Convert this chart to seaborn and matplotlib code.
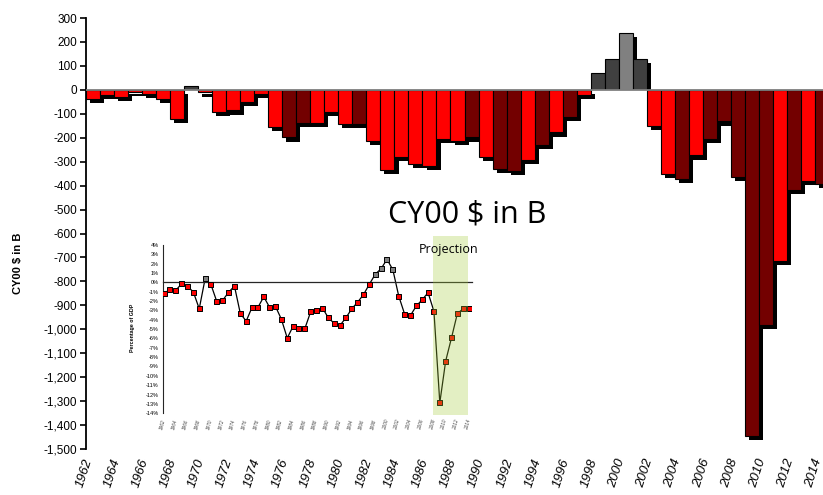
import numpy as np
import pandas as pd
import matplotlib.pyplot as plt
import matplotlib.patheffects as pe
import matplotlib.transforms as mtransforms
from matplotlib.patches import Rectangle
from matplotlib.ticker import FuncFormatter
import seaborn as sns

# ─── DATA ────────────────────────────────────────────────────────────────────
years = list(range(1962, 2015))

# deficit / surplus, CY00 $ in billions
deficit = [-38, -21, -28, -8, -16, -39, -121, 16, -11, -93, -86, -51, -17, -156,
           -199, -139, -139, -91, -144, -144, -213, -334, -281, -311, -316, -206, -213, -199,
           -281, -330, -339, -293, -230, -178, -114, -21, 70, 128, 237, 128,
           -150, -351, -373, -274, -206, -132, -365, -1447, -982, -713, -418, -381, -393]

# bar shading: R = red, D = dark red, G = dark grey, L = light grey
bar_kind = list("RRRRRRRGRRRRRR"
                "DDRRRDRRRRRRRD"
                "RDDRDRDRGGLG"
                "RRDRDDDDDRDRD")

# same series as percentage of GDP (inset)
pct_gdp = [-1.2, -0.75, -0.86, -0.15, -0.42, -1.04, -2.83, 0.38, -0.25, -2.07, -1.92, -1.07, -0.4, -3.33,
           -4.15, -2.68, -2.68, -1.55, -2.68, -2.58, -3.95, -5.96, -4.7, -4.95, -4.95, -3.13, -2.99, -2.75,
           -3.79, -4.39, -4.6, -3.79, -2.83, -2.12, -1.31, -0.2, 0.86, 1.46, 2.46, 1.34,
           -1.47, -3.39, -3.54, -2.53, -1.86, -1.11, -3.1, -12.88, -8.42, -5.92, -3.32, -2.83, -2.83]

proj_first, proj_last = 2008, 2014

KIND_COLORS = {"R": "#FF0000", "D": "#730000", "G": "#404040", "L": "#808080"}

df = pd.DataFrame({"year": [str(y) for y in years], "deficit": deficit,
                   "kind": bar_kind, "pct": pct_gdp})
df["idx"] = np.arange(len(df))
df["sign"] = np.where(df["pct"] > 0, "pos", "neg")

# ─── STYLE ───────────────────────────────────────────────────────────────────
sns.set_style("white")
plt.rcParams["font.family"] = ["Liberation Sans", "DejaVu Sans"]
plt.rcParams.update({"text.color": "black", "axes.labelcolor": "black",
                     "xtick.color": "black", "ytick.color": "black"})

fig = plt.figure(figsize=(8.23, 4.95), dpi=100)

# ─── MAIN BAR CHART ──────────────────────────────────────────────────────────
ax = fig.add_axes([0.1041, 0.0929, 0.8959, 0.8707])
palette = {y: KIND_COLORS[k] for y, k in zip(df["year"], df["kind"])}
sns.barplot(data=df, x="year", y="deficit", hue="year", palette=palette,
            legend=False, width=1.0, saturation=1, edgecolor="black",
            linewidth=0.8, ax=ax)

ax.set_xlim(-0.5, 52.05)
ax.set_ylim(-1500, 300)

shadow = [pe.SimplePatchShadow(offset=(3, -3), shadow_rgbFace="black", alpha=1.0),
          pe.Normal()]
# surplus bars: keep their shadow above the zero line
xmin, xmax = ax.get_xlim()
above_zero = Rectangle((xmin, 0), xmax - xmin, ax.get_ylim()[1], transform=ax.transData)
for p, val in zip(ax.patches, deficit):
    p.set_path_effects(shadow)
    if val > 0:
        p.set_clip_path(above_zero)

ax.axhline(0, color="#808080", lw=1.3, zorder=5)
ax.set_yticks(np.arange(-1500, 301, 100))
ax.yaxis.set_major_formatter(FuncFormatter(lambda v, _: f"{v:,.0f}"))
ax.tick_params(axis="y", labelsize=8.5, length=4, width=1.2, direction="out",
               color="black", pad=2, left=True)

even = df["idx"][::2]
ax.set_xticks(even)
ax.set_xticklabels(df["year"][::2], rotation=72, ha="right", va="center",
                   rotation_mode="anchor", fontstyle="italic", fontsize=9.5)
ax.tick_params(axis="x", length=0, pad=7)
shift = mtransforms.ScaledTranslation(-3 / 72, 0, fig.dpi_scale_trans)
for lbl in ax.get_xticklabels():
    lbl.set_transform(lbl.get_transform() + shift)

for s in ["top", "right", "bottom"]:
    ax.spines[s].set_visible(False)
ax.spines["left"].set_color("black")
ax.spines["left"].set_linewidth(1.3)

ax.set_xlabel("")
ax.set_ylabel("CY00 $ in B", fontsize=8, fontweight="bold")
ax.yaxis.set_label_coords(-0.085, 0.43)

fig.text(0.568, 0.5515, "CY00 $ in B", fontsize=22, family="Open Sans",
         ha="center", va="baseline")

# ─── INSET: % OF GDP ─────────────────────────────────────────────────────────
ax2 = fig.add_axes([0.1981, 0.1616, 0.3755, 0.3616])
ax2.patch.set_alpha(0)
sns.lineplot(data=df, x="idx", y="pct", color="black", lw=0.9, ax=ax2, zorder=2)
sns.scatterplot(data=df, x="idx", y="pct", hue="sign",
                palette={"neg": "#FF0000", "pos": "#808080"}, marker="s", s=13,
                edgecolor="black", linewidth=0.7, legend=False, ax=ax2, zorder=3)

i0 = years.index(proj_first)
i1 = years.index(proj_last)
ax2.axvspan(i0 - 0.15, i1 - 0.2, color="#A5CD3A", alpha=0.3, lw=0, zorder=4)
ax2.text((i0 + i1) / 2 - 0.5, 3.13, "Projection", family="Open Sans", fontsize=9,
         ha="center", va="baseline", zorder=6)

ax2.set_xlim(-0.17, 52.5)
ax2.set_ylim(-14.19, 4.95)
ax2.set_yticks(range(-14, 5))
ax2.set_yticklabels([f"{v}%" for v in range(-14, 5)], fontsize=4)
ax2.tick_params(axis="y", length=2, width=0.6, pad=1)

ax2.spines["bottom"].set_position(("data", 0))
ax2.spines["bottom"].set_linewidth(0.9)
ax2.set_xticks(df["idx"])
ax2.tick_params(axis="x", length=1.5, width=0.5, direction="out", labelbottom=False)
ax2.spines["left"].set_bounds(-14, 4)
ax2.spines["left"].set_linewidth(0.8)
for s in ["top", "right"]:
    ax2.spines[s].set_visible(False)

sec = ax2.secondary_xaxis("bottom")
sec.set_xticks(even)
sec.set_xticklabels(df["year"][::2], rotation=75, ha="right", va="center",
                    rotation_mode="anchor", fontstyle="italic", fontsize=3.3,
                    color="#444444")
sec.tick_params(length=0, pad=3)
sec.spines["bottom"].set_visible(False)

ax2.set_xlabel("")
ax2.set_ylabel("Percentage of GDP", fontsize=3.8, fontweight="bold")
ax2.yaxis.set_label_coords(-0.09, 0.486)

fig.savefig("out.png", dpi=100)
